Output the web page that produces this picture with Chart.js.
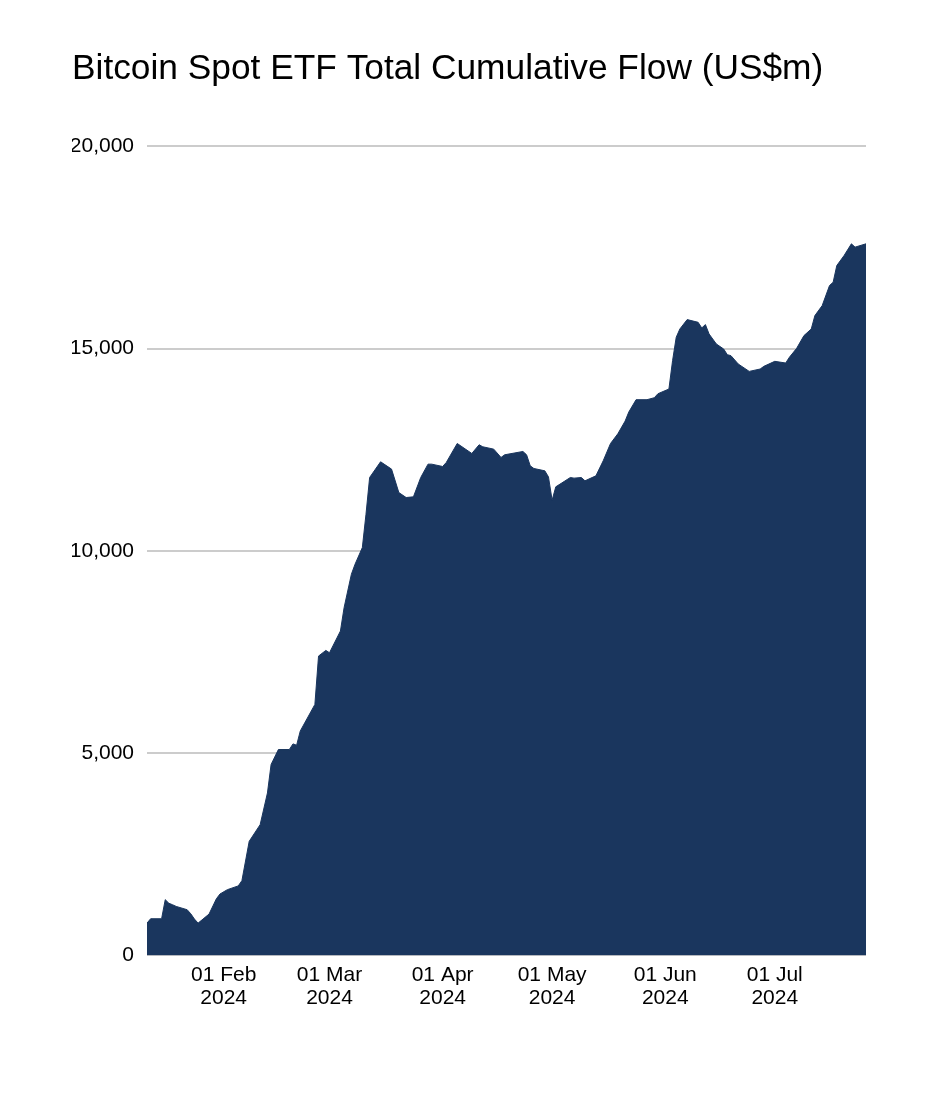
<!DOCTYPE html>
<html>
<head>
<meta charset="utf-8">
<title>Bitcoin Spot ETF Total Cumulative Flow</title>
<script src="https://cdn.jsdelivr.net/npm/chart.js@4.4.1/dist/chart.umd.min.js"></script>
<style>
  html, body { margin: 0; padding: 0; background: #fff; }
  #wrap { width: 932px; height: 1104px; position: relative; }
</style>
</head>
<body>
<div id="wrap"><canvas id="flowChart"></canvas></div>
<script>
// Cumulative flow (US$m), dates are calendar days
const dates = [
  '2024-01-11', '2024-01-12', '2024-01-15', '2024-01-16', '2024-01-17', '2024-01-18', '2024-01-19',
  '2024-01-22', '2024-01-23', '2024-01-24', '2024-01-25', '2024-01-28', '2024-01-30', '2024-01-31',
  '2024-02-02', '2024-02-05', '2024-02-06', '2024-02-08', '2024-02-11', '2024-02-13', '2024-02-14',
  '2024-02-16', '2024-02-19', '2024-02-20', '2024-02-21', '2024-02-22', '2024-02-26', '2024-02-27',
  '2024-02-29', '2024-03-01', '2024-03-04', '2024-03-05', '2024-03-07', '2024-03-08', '2024-03-10',
  '2024-03-11', '2024-03-12', '2024-03-15', '2024-03-18', '2024-03-20', '2024-03-22', '2024-03-24',
  '2024-03-26', '2024-03-28', '2024-03-29', '2024-04-01', '2024-04-02', '2024-04-05', '2024-04-09',
  '2024-04-11', '2024-04-12', '2024-04-15', '2024-04-17', '2024-04-18', '2024-04-23', '2024-04-24',
  '2024-04-25', '2024-04-26', '2024-04-29', '2024-04-30', '2024-05-01', '2024-05-02', '2024-05-06',
  '2024-05-07', '2024-05-09', '2024-05-10', '2024-05-13', '2024-05-15', '2024-05-17', '2024-05-19',
  '2024-05-21', '2024-05-22', '2024-05-24', '2024-05-27', '2024-05-29', '2024-05-30', '2024-06-02',
  '2024-06-03', '2024-06-04', '2024-06-05', '2024-06-07', '2024-06-10', '2024-06-11', '2024-06-12',
  '2024-06-13', '2024-06-15', '2024-06-17', '2024-06-18', '2024-06-19', '2024-06-21', '2024-06-24',
  '2024-06-27', '2024-06-28', '2024-07-01', '2024-07-04', '2024-07-05', '2024-07-07', '2024-07-09',
  '2024-07-11', '2024-07-12', '2024-07-14', '2024-07-16', '2024-07-17', '2024-07-18', '2024-07-20',
  '2024-07-22', '2024-07-23', '2024-07-26'
];
const flow = [
  800, 908, 908, 1380, 1290, 1254, 1213,
  1131, 1030, 900, 800, 1023, 1400, 1520,
  1626, 1720, 1849, 2822, 3234, 4017, 4720,
  5091, 5091, 5230, 5198, 5550, 6205, 7401,
  7541, 7483, 8020, 8597, 9423, 9671, 10082,
  10907, 11815, 12203, 12022, 11443, 11320, 11337,
  11815, 12145, 12145, 12087, 12186, 12656, 12409,
  12624, 12574, 12516, 12310, 12376, 12458, 12376,
  12104, 12038, 11980, 11830, 11254, 11584, 11815,
  11799, 11815, 11733, 11856, 12228, 12656, 12895,
  13209, 13432, 13738, 13738, 13787, 13886, 14002,
  14703, 15280, 15486, 15718, 15651, 15512, 15594,
  15363, 15115, 14991, 14851, 14826, 14620, 14438,
  14496, 14562, 14686, 14645, 14785, 15008, 15322,
  15486, 15817, 16064, 16559, 16642, 17054, 17302,
  17591, 17509, 17591
];
const startDate = '2024-01-11';
const endDate = '2024-07-26';
const tickDates = ['2024-02-01', '2024-03-01', '2024-04-01', '2024-05-01', '2024-06-01', '2024-07-01'];
const tickLabels = [['01 Feb', '2024'], ['01 Mar', '2024'], ['01 Apr', '2024'], ['01 May', '2024'], ['01 Jun', '2024'], ['01 Jul', '2024']];
const yTicks = [0, 5000, 10000, 15000, 20000];

const DAY = 86400000;
const t0 = new Date(startDate).getTime();
const dayOf = s => Math.round((new Date(s).getTime() - t0) / DAY);
const tickDays = tickDates.map(dayOf);

const points = dates.map((d, i) => ({ x: dayOf(d), y: flow[i] }));

const fontFamily = '"Liberation Sans", Arial, Helvetica, sans-serif';

new Chart(document.getElementById('flowChart'), {
  type: 'line',
  data: {
    datasets: [{
      label: 'Cumulative flow',
      data: points,
      fill: 'origin',
      backgroundColor: '#1a365e',
      borderColor: '#1a365e',
      borderWidth: 1,
      pointRadius: 0,
      tension: 0
    }]
  },
  options: {
    responsive: true,
    maintainAspectRatio: false,
    animation: false,
    layout: { padding: { left: 72, right: 66, top: 0, bottom: 86 } },
    plugins: {
      legend: { display: false },
      tooltip: { enabled: false },
      title: {
        display: true,
        text: 'Bitcoin Spot ETF Total Cumulative Flow (US$m)',
        align: 'start',
        color: '#000',
        font: { family: fontFamily, size: 35.3, weight: 'normal' },
        padding: { top: 48, bottom: 56 }
      }
    },
    scales: {
      x: {
        type: 'linear',
        min: 0,
        max: dayOf(endDate),
        grid: { display: false, drawTicks: false },
        border: { display: false },
        afterBuildTicks: axis => { axis.ticks = tickDays.map(v => ({ value: v })); },
        ticks: {
          autoSkip: false,
          maxRotation: 0,
          padding: 9,
          color: '#000',
          font: { family: fontFamily, size: 21, lineHeight: 1.06 },
          callback: (v) => {
            const i = tickDays.indexOf(v);
            return i >= 0 ? tickLabels[i] : '';
          }
        }
      },
      y: {
        min: 0,
        max: 20000,
        afterBuildTicks: axis => { axis.ticks = yTicks.map(v => ({ value: v })); },
        afterFit: axis => { axis.width = 75; },
        grid: { color: '#cccccc', lineWidth: 2, drawTicks: false },
        border: { display: false },
        ticks: {
          padding: 13,
          color: '#000',
          font: { family: fontFamily, size: 21 },
          callback: v => v.toLocaleString('en-US')
        }
      }
    }
  }
});
</script>
</body>
</html>
